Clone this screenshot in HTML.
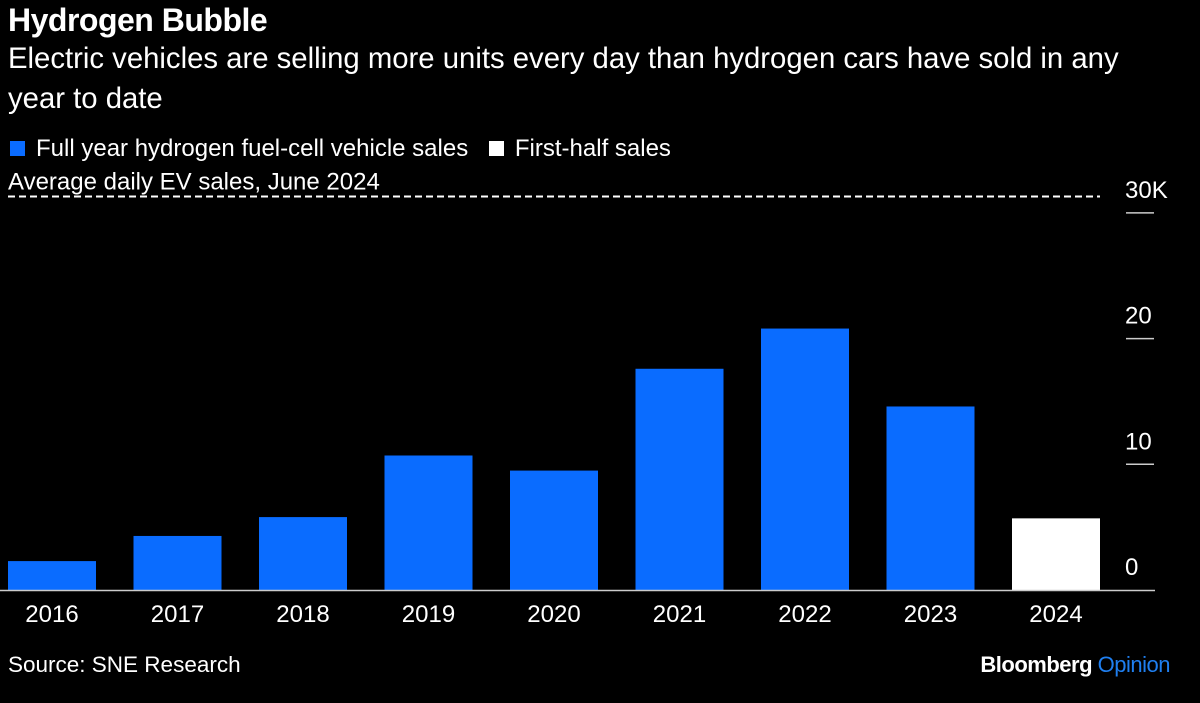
<!DOCTYPE html>
<html><head><meta charset="utf-8"><style>
body{margin:0;background:#000;width:1200px;height:703px;overflow:hidden;font-family:"Liberation Sans",Arial,sans-serif;color:#fff}
.t{position:absolute;left:8px;white-space:nowrap}
</style></head><body>
<div class="t" style="top:2px;font-size:32px;font-weight:bold;letter-spacing:-0.5px">Hydrogen Bubble</div>
<div class="t" style="top:39px;font-size:29.3px;line-height:40px;white-space:normal;width:1140px">Electric vehicles are selling more units every day than hydrogen cars have sold in any year to date</div>
<div class="t" style="top:135px;font-size:24px;left:10px">
<span><span style="display:inline-block;width:15px;height:15px;background:#0a6cff;margin-right:11px"></span>Full year hydrogen fuel-cell vehicle sales</span>
<span style="margin-left:14px"><span style="display:inline-block;width:15px;height:15px;background:#fff;margin-right:11px"></span>First-half sales</span>
</div>
<svg id="chart" width="1200" height="703" style="position:absolute;left:0;top:0"></svg>
<div class="t" style="top:652px;font-size:22.5px">Source: SNE Research</div>
<div style="position:absolute;right:30px;top:652px;font-size:22px;font-weight:bold;letter-spacing:-0.5px">Bloomberg <span style="color:#1f7ff0;font-weight:normal">Opinion</span></div>
<script>
const categories=["2016","2017","2018","2019","2020","2021","2022","2023","2024"];
const values=[2.3,4.3,5.8,10.7,9.5,17.6,20.8,14.6,5.7];
const halfYear=[false,false,false,false,false,false,false,false,true];
const tickValues=[0,10,20,30];
const tickLabels=["0","10","20","30K"];
const evDaily=[31.3];
const svg=document.getElementById('chart');
const NS='http://www.w3.org/2000/svg';
const y=v=>590-v*12.57;
const x=i=>8+i*125.5;
const bw=88;
const F='Liberation Sans, Arial, sans-serif';
function mk(t,a){const e=document.createElementNS(NS,t);for(const k in a)e.setAttribute(k,a[k]);svg.appendChild(e);return e;}
values.forEach((v,i)=>{
 const r=mk('rect',{x:x(i),y:y(v),width:bw,height:590-y(v),fill:halfYear[i]?'#fff':'#0a6cff'});
 
 
 const t=mk('text',{x:x(i)+bw/2,y:622,'text-anchor':'middle',fill:'#fff','font-size':24,'font-family':F});
 t.textContent=categories[i];
 
 
});
const base=mk('line',{x1:0,x2:1155,y1:590.5,y2:590.5,stroke:'#ccc','stroke-width':1.5});


tickValues.forEach((v,i)=>{
 if(v>0){const l=mk('line',{x1:1126,x2:1154,y1:y(v),y2:y(v),stroke:'#ccc','stroke-width':1.5});
 
 }
 const t=mk('text',{x:1125,y:y(v)-15,fill:'#fff','font-size':24,'font-family':F});
 t.textContent=tickLabels[i];
 
 
});
const d=mk('line',{x1:8,x2:1100,y1:y(evDaily[0]),y2:y(evDaily[0]),stroke:'#fff','stroke-width':2,'stroke-dasharray':'7 4'});


const dl=mk('text',{x:8,y:y(evDaily[0])-7,fill:'#fff','font-size':24,'font-family':F});
dl.textContent='Average daily EV sales, June 2024';


</script>
</body></html>
